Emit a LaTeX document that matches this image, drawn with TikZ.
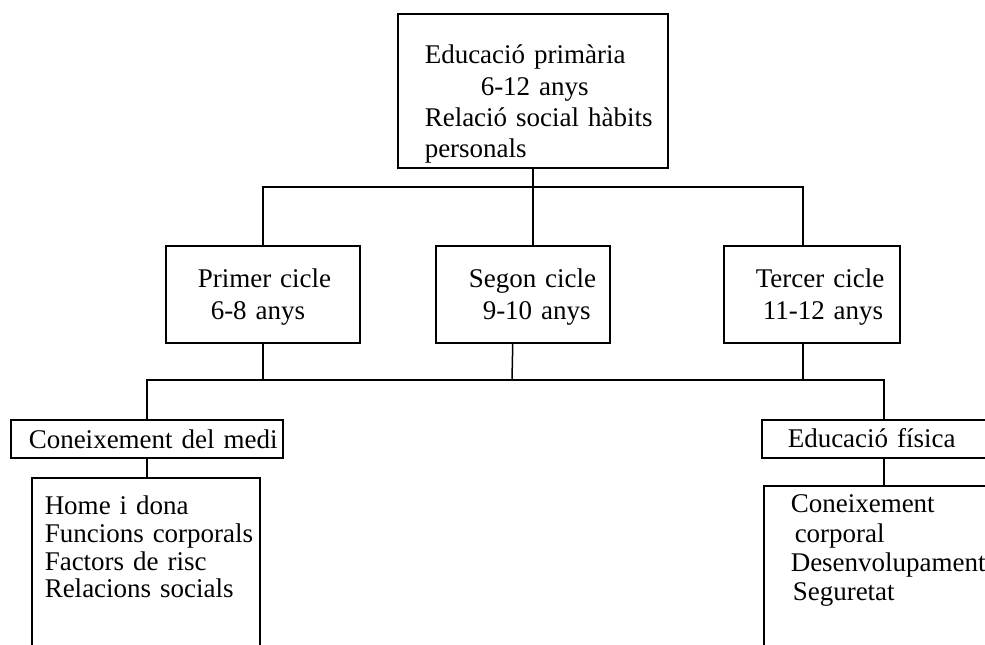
\documentclass[tikz,border=0pt]{standalone}
\usepackage{fontspec}
\setmainfont{Liberation Serif}
\begin{document}
\begin{tikzpicture}[x=1pt,y=-1pt,line width=1.5pt,
  font=\fontsize{27}{31.3}\selectfont,
  box/.style={draw,anchor=north west,inner sep=0pt,align=left},
  pad/.style={execute at begin node={\leftskip=#1\hyphenpenalty=10000}}]
\useasboundingbox (0,0) rectangle (985,645);
\clip (0,0) rectangle (985,645);
% etapa
\node[box,pad=27pt,text width=270pt,text height=50pt,text depth=104pt] (ep) at (397,13)
  {Educació primària\\\hspace*{56pt}6-12 anys\\Relació social hàbits\\personals};
% cicles
\node[box,pad=32pt,text width=194pt,text height=42pt,text depth=55pt] (primer) at (165,245)
  {Primer cicle\\\hspace*{13pt}6-8 anys};
\node[box,pad=33pt,text width=174pt,text height=42pt,text depth=55pt] (segon) at (435,245)
  {Segon cicle\\\hspace*{14pt}9-10 anys};
\node[box,pad=32pt,text width=176pt,text height=42pt,text depth=55pt] (tercer) at (723,245)
  {Tercer cicle\\\hspace*{7pt}11-12 anys};
% arees
\node[box,pad=18pt,text width=272pt,text height=29pt,text depth=9pt] (medi) at (10,419)
  {Coneixement del medi};
\node[box,pad=26pt,text width=244pt,text height=28pt,text depth=10pt] (fisica) at (761,419)
  {Educació física};
\node[box,pad=13pt,text width=228pt,text height=37pt,text depth=180pt,
  font=\fontsize{27}{27.7}\selectfont] (temes1) at (31,477)
  {Home i dona\\Funcions corporals\\Factors de risc\\Relacions socials};
\node[box,pad=27pt,text width=260pt,text height=27pt,text depth=180pt,
  font=\fontsize{27}{29.3}\selectfont] (temes2) at (763,485)
  {Coneixement\\\hspace*{4pt}corporal\\Desenvolupament\\\hspace*{2pt}Seguretat};
% connexions
\coordinate (bus1) at (532,187);
\coordinate (bus2) at (512,380);
\draw (ep.south) -- (ep.south |- segon.north);
\draw (primer.north) |- (bus1) -| ([xshift=-9pt]tercer.north);
\draw (primer.south) -- (primer.south |- bus2);
\draw ([xshift=-10pt]segon.south) -- (bus2);
\draw ([xshift=-9pt]tercer.south) |- (bus2);
\draw (medi.north) |- (bus2) -| (fisica.north);
\draw (medi.south) -- (medi.south |- temes1.north);
\draw (fisica.south) -- (fisica.south |- temes2.north);
\end{tikzpicture}
\end{document}
